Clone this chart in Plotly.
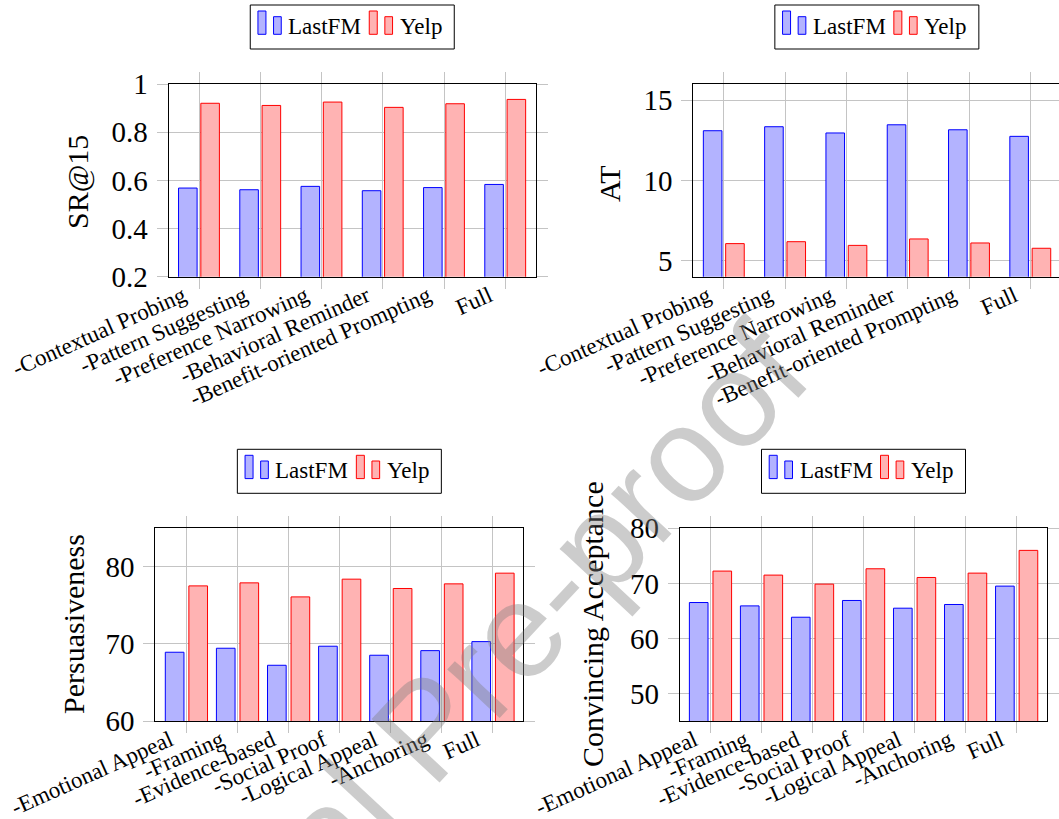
import plotly.graph_objects as go

# ---------------- data ----------------
cats_top = ["-Contextual Probing", "-Pattern Suggesting", "-Preference Narrowing",
            "-Behavioral Reminder", "-Benefit-oriented Prompting", "Full"]
cats_bottom = ["-Emotional Appeal", "-Framing", "-Evidence-based", "-Social Proof",
               "-Logical Appeal", "-Anchoring", "Full"]
series_names = ["LastFM", "Yelp"]

sr15_lastfm = [0.568, 0.561, 0.575, 0.557, 0.570, 0.583]
sr15_yelp = [0.920, 0.911, 0.925, 0.903, 0.918, 0.936]
at_lastfm = [13.09, 13.34, 12.95, 13.46, 13.15, 12.74]
at_yelp = [6.06, 6.18, 5.95, 6.35, 6.10, 5.77]
pers_lastfm = [68.92, 69.44, 67.23, 69.70, 68.53, 69.13, 70.30]
pers_yelp = [77.53, 77.92, 76.10, 78.40, 77.19, 77.79, 79.18]
conv_lastfm = [66.52, 65.91, 63.85, 66.89, 65.49, 66.16, 69.50]
conv_yelp = [72.23, 71.50, 69.86, 72.65, 71.07, 71.86, 75.99]

y_titles = ["SR@15", "AT", "Persuasiveness", "Convincing Acceptance"]
tick_sr = [0.2, 0.4, 0.6, 0.8, 1.0]
tick_sr_text = ["0.2", "0.4", "0.6", "0.8", "1"]
tick_at = [5, 10, 15]
tick_pers = [60, 70, 80]
tick_conv = [50, 60, 70, 80]

# ---------------- style ----------------
W, H = 1059, 819
SERIF = "Liberation Serif, Times New Roman, serif"
BLUE_FILL, BLUE_LINE = "rgb(179,179,255)", "rgb(0,0,255)"
RED_FILL, RED_LINE = "rgb(255,179,179)", "rgb(255,0,0)"
GRID = "rgb(196,196,196)"


def px(x):
    return x / W


def py(y):
    return 1 - y / H


# subplot boxes in pixels (left, right, top, bottom)
boxes = {
    "": (168.5, 536.0, 84.0, 276.7),
    "2": (693.3, 1059.0, 84.0, 276.7),
    "3": (155.4, 523.3, 528.3, 721.0),
    "4": (679.8, 1047.2, 528.3, 721.0),
}

fig = go.Figure()

panels = [
    ("", cats_top, sr15_lastfm, sr15_yelp, [0.2, 1.0], tick_sr, tick_sr_text, [-0.5, 5.5], 0.303, -0.336, 0.028),
    ("2", cats_top, at_lastfm, at_yelp, [4, 16], tick_at, [str(v) for v in tick_at], [-0.5, 5.466], 0.303, -0.336, 0.028),
    ("3", cats_bottom, pers_lastfm, pers_yelp, [60, 85], tick_pers, [str(v) for v in tick_pers], [-0.6, 6.6], 0.365, -0.406, 0.055),
    ("4", cats_bottom, conv_lastfm, conv_yelp, [45, 80], tick_conv, [str(v) for v in tick_conv], [-0.6, 6.6], 0.365, -0.412, 0.05),
]

for suf, cats, a_vals, b_vals, yr, tv, tt, xr, bw, off_a, off_b in panels:
    xa, ya = "x" + suf, "y" + suf
    fig.add_trace(go.Bar(x=cats, y=a_vals, name=series_names[0], xaxis=xa, yaxis=ya,
                         width=bw, offset=off_a, showlegend=False,
                         marker=dict(color=BLUE_FILL, line=dict(color=BLUE_LINE, width=1))))
    fig.add_trace(go.Bar(x=cats, y=b_vals, name=series_names[1], xaxis=xa, yaxis=ya,
                         width=bw, offset=off_b, showlegend=False,
                         marker=dict(color=RED_FILL, line=dict(color=RED_LINE, width=1))))
    l, r, t, b = boxes[suf]
    common = dict(showline=True, linecolor="black", linewidth=1, mirror="ticks",
                  ticks="outside", ticklen=11, tickcolor=GRID, tickwidth=1,
                  showgrid=True, gridcolor=GRID, gridwidth=1, zeroline=False, automargin=False)
    fig.update_layout({
        "xaxis" + suf: dict(domain=[px(l), min(1.0, px(r))], anchor=ya, type="category",
                            range=xr, tickangle=-24, tickfont=dict(family=SERIF, size=23, color="black"),
                            ticklabelshift=-16, ticklabelstandoff=-15, **common),
        "yaxis" + suf: dict(domain=[py(b), py(t)], anchor=xa, range=yr, tickvals=tv, ticktext=tt,
                            tickfont=dict(family=SERIF, size=29, color="black"),
                            ticklabelstandoff=3, **common),
    })

# y-axis titles
title_pos = [(78, 182), (610, 184), (73, 624), (592, 624)]
for text, (x, y) in zip(y_titles, title_pos):
    fig.add_annotation(x=px(x), y=py(y), xref="paper", yref="paper", text=text, textangle=-90,
                       showarrow=False, font=dict(family=SERIF, size=30, color="black"),
                       xanchor="center", yanchor="middle")

# custom legends (two-bar icons like pgfplots ybar legend)
shapes = []
for suf in ["", "2", "3", "4"]:
    l, r, t, b = boxes[suf]
    if suf == "2":
        r = 1060.4
    cx = (l + r) / 2
    L = cx - 102
    T = t - 79
    shapes.append(dict(type="rect", xref="paper", yref="paper", x0=px(L), x1=px(L + 204),
                       y0=py(T + 44), y1=py(T), line=dict(color="black", width=1), fillcolor="white"))
    for (dx, fill, line, name) in [(0, BLUE_FILL, BLUE_LINE, series_names[0]),
                                   (111.3, RED_FILL, RED_LINE, series_names[1])]:
        shapes.append(dict(type="rect", xref="paper", yref="paper", x0=px(L + 7.7 + dx), x1=px(L + 15.7 + dx),
                           y0=py(T + 29.3), y1=py(T + 6), line=dict(color=line, width=1), fillcolor=fill))
        shapes.append(dict(type="rect", xref="paper", yref="paper", x0=px(L + 23.3 + dx), x1=px(L + 31 + dx),
                           y0=py(T + 29.3), y1=py(T + 11.7), line=dict(color=line, width=1), fillcolor=fill))
        fig.add_annotation(x=px(L + 36 + dx), y=py(T + 21.5), xref="paper", yref="paper", text=name,
                           showarrow=False, xanchor="left", yanchor="middle",
                           font=dict(family=SERIF, size=23, color="black"))

# watermark
fig.add_annotation(x=px(426), y=py(728), xref="paper", yref="paper", text="Journal Pre-proof",
                   textangle=-47, showarrow=False, xanchor="center", yanchor="middle",
                   font=dict(family="Liberation Sans, Arial, sans-serif", size=135,
                             color="rgba(128,128,128,0.4)"))

fig.update_layout(template="none", width=W, height=H, margin=dict(l=0, r=0, t=0, b=0, pad=0),
                  paper_bgcolor="white", plot_bgcolor="white", barmode="overlay",
                  shapes=shapes, showlegend=False)

fig.write_html("out.html", config={"displayModeBar": False},
               post_script="document.body.style.margin='0px';")
